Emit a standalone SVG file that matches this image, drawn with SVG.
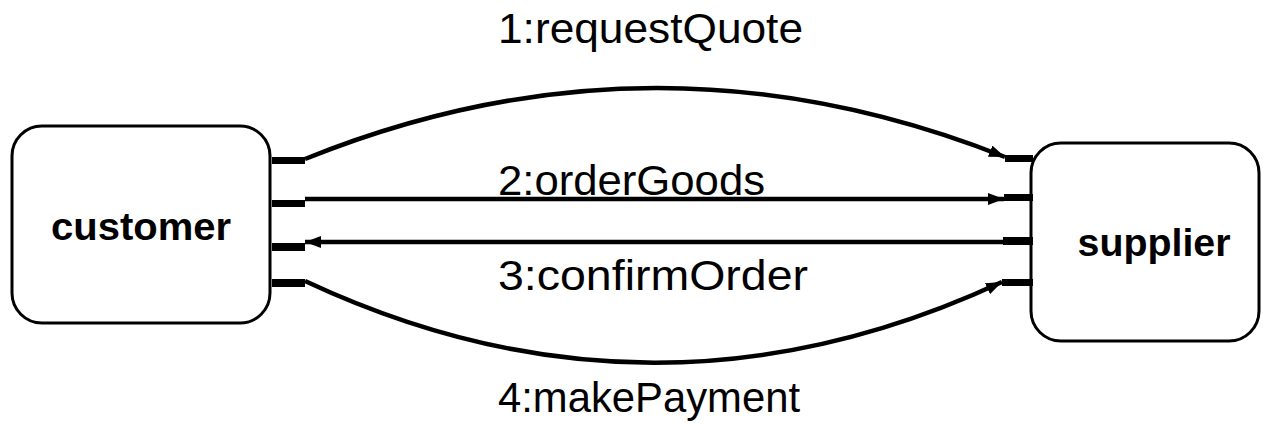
<svg xmlns="http://www.w3.org/2000/svg" width="1263" height="424" viewBox="0 0 1263 424">
<style>
.box{fill:#fff;stroke:#000;stroke-width:3}
.name{font-family:"Liberation Sans",Arial,sans-serif;font-weight:bold;font-size:39px;fill:#000}
.lbl{font-family:"Liberation Sans",Arial,sans-serif;font-size:42px;fill:#000}
.conn{fill:none;stroke:#000;stroke-width:4.5}
.stub{fill:#000}
</style>
<defs>
<marker id="arr" viewBox="0 0 16 12" refX="16" refY="6" markerWidth="16" markerHeight="12" markerUnits="userSpaceOnUse" orient="auto">
<path d="M0,0 L16,6 L0,12 Z" fill="#000"/>
</marker>
</defs>
<rect width="1263" height="424" fill="#fff"/>
<g id="customer">
<rect class="box" x="12" y="126" width="258" height="197" rx="30"/>
<rect class="stub" x="272" y="157" width="33" height="7"/>
<rect class="stub" x="272" y="200" width="33" height="7"/>
<rect class="stub" x="272" y="243" width="33" height="8"/>
<rect class="stub" x="272" y="279" width="33" height="8"/>
<text class="name" x="141" y="240" text-anchor="middle" textLength="180" lengthAdjust="spacingAndGlyphs">customer</text>
</g>
<g id="supplier">
<rect class="box" x="1031" y="143" width="228" height="198" rx="30"/>
<rect class="stub" x="1005" y="155" width="28" height="7"/>
<rect class="stub" x="1004" y="194" width="29" height="7"/>
<rect class="stub" x="1003" y="237" width="30" height="8"/>
<rect class="stub" x="1002" y="279" width="31" height="7"/>
<text class="name" x="1154" y="256" text-anchor="middle" textLength="153" lengthAdjust="spacingAndGlyphs">supplier</text>
</g>
<g id="connectors">
<path class="conn" d="M305,159 Q654,18 1005,157" marker-end="url(#arr)"/>
<path class="conn" d="M305,199 L1004,199" marker-end="url(#arr)"/>
<path class="conn" d="M1003,242 L305,242" marker-end="url(#arr)"/>
<path class="conn" d="M305,281 Q653,444 1002,282" marker-end="url(#arr)"/>
</g>
<g id="labels">
<text class="lbl" x="498" y="43" textLength="305" lengthAdjust="spacingAndGlyphs">1:requestQuote</text>
<text class="lbl" x="498" y="195" textLength="267" lengthAdjust="spacingAndGlyphs">2:orderGoods</text>
<text class="lbl" x="498" y="290" textLength="310" lengthAdjust="spacingAndGlyphs">3:confirmOrder</text>
<text class="lbl" x="498" y="412" textLength="302" lengthAdjust="spacingAndGlyphs">4:makePayment</text>
</g>
</svg>
